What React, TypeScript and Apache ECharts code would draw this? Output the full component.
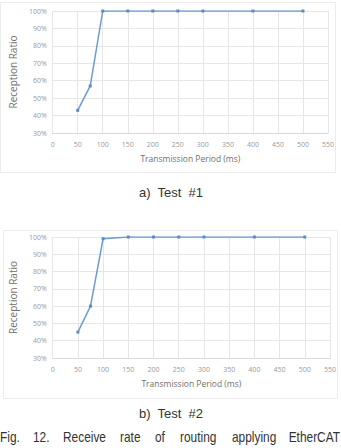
import React, { useEffect, useRef } from "react";
import * as echarts from "echarts";

const periods = [50, 75, 100, 150, 200, 250, 300, 400, 500];
const test1 = [43, 57, 100, 100, 100, 100, 100, 100, 100];
const test2 = [45, 60, 99, 100, 100, 100, 100, 100, 100];
const xTitle = "Transmission Period (ms)";
const yTitle = "Reception Ratio";
const captionA = "a)  Test  #1";
const captionB = "b)  Test  #2";
const figWords = ["Fig.", "12.", "Receive", "rate", "of", "routing", "applying", "EtherCAT"];
const figWordX = [0, 33, 63, 120, 155, 180, 232, 290];

export default function App() {
  const ref = useRef<HTMLDivElement>(null);
  useEffect(() => {
    if (!ref.current) return;
    const chart = echarts.init(ref.current, null, { renderer: "svg" });
    const font = "'Open Sans', 'Liberation Sans', sans-serif";
    const mkX = (gi: number) => ({
      type: "value",
      gridIndex: gi,
      min: 0,
      max: 550,
      interval: 50,
      name: xTitle,
      nameLocation: "middle",
      nameGap: 21,
      nameTextStyle: { color: "#707070", fontSize: 8.5, fontFamily: font },
      axisLine: { show: true, lineStyle: { color: "#d9d9d9" } },
      axisTick: { show: false },
      axisLabel: { color: "#9a9a9a", fontSize: 7, fontFamily: font, margin: 8 },
      splitLine: { show: true, lineStyle: { color: "#e6e6e6", width: 1 } },
    });
    const mkY = (gi: number) => ({
      type: "value",
      gridIndex: gi,
      min: 30,
      max: 100,
      interval: 10,
      name: yTitle,
      nameLocation: "middle",
      nameGap: 27,
      nameTextStyle: { color: "#707070", fontSize: 10, fontFamily: font },
      axisLine: { show: false },
      axisTick: { show: false },
      axisLabel: { color: "#9a9a9a", fontSize: 7, fontFamily: font, formatter: (v: number) => `${v}%`, margin: 6 },
      splitLine: { show: true, lineStyle: { color: "#e6e6e6", width: 1 } },
    });
    const mkSeries = (gi: number, vals: number[]) => ({
      type: "line",
      xAxisIndex: gi,
      yAxisIndex: gi,
      data: periods.map((p, i) => [p, vals[i]]),
      symbol: "rect",
      symbolSize: 3,
      lineStyle: { color: "#6b9bcf", width: 1.5 },
      itemStyle: { color: "#5a8cc4" },
    });
    const textEl = (x: number, y: number, text: string, size: number, align = "center", sx = 1) => ({
      type: "text",
      x,
      y,
      scaleX: sx,
      style: {
        text,
        fontSize: size,
        fill: "#333",
        fontFamily: "'Liberation Sans', 'DejaVu Sans', sans-serif",
        align,
        verticalAlign: "middle",
      },
    });
    chart.setOption({
      animation: false,
      grid: [
        { left: 42, right: 13, top: 11, height: 122 },
        { left: 43, right: 11, top: 237, height: 121 },
      ],
      xAxis: [mkX(0), mkX(1)],
      yAxis: [mkY(0), mkY(1)],
      series: [mkSeries(0, test1), mkSeries(1, test2)],
      graphic: [
        { type: "rect", shape: { x: 0.5, y: 2.5, width: 335, height: 170 }, style: { fill: "none", stroke: "#ececec", lineWidth: 1 } },
        { type: "rect", shape: { x: 3.5, y: 230.5, width: 334, height: 168 }, style: { fill: "none", stroke: "#ececec", lineWidth: 1 } },
        textEl(171, 192, captionA, 13),
        textEl(171, 413, captionB, 13),
        ...figWords.map((w, i) =>
          i === figWords.length - 1
            ? textEl(340, 437, w, 14, "right", 0.85)
            : textEl(figWordX[i], 437, w, 14, "left", 0.85)
        ),
      ],
    });
    return () => chart.dispose();
  }, []);
  return <div ref={ref} style={{ position: "fixed", left: 0, top: 0, width: 341, height: 448, background: "#fff" }} />;
}
